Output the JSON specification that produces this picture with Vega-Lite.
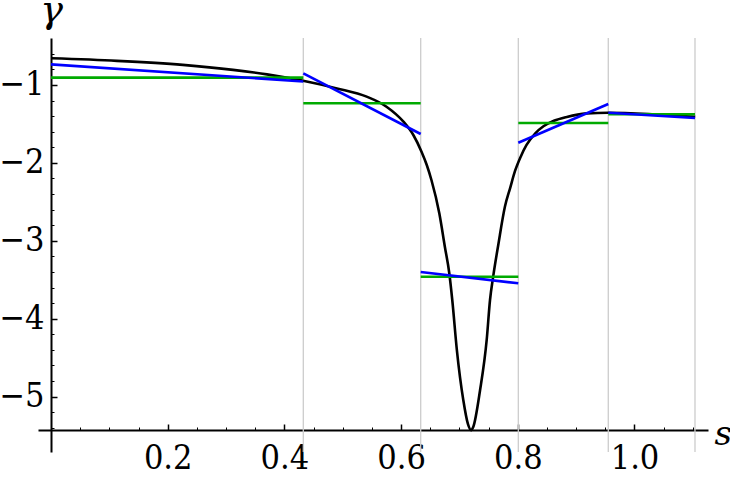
{
  "$schema": "https://vega.github.io/schema/vega-lite/v6.json",
  "width": 670,
  "height": 414,
  "autosize": {"type": "none"},
  "padding": {"left": 38, "top": 38, "right": 22, "bottom": 34},
  "config": {
    "font": "DejaVu Serif",
    "view": {"stroke": null},
    "axis": {
      "grid": false,
      "domainColor": "black",
      "tickColor": "black",
      "labelColor": "black",
      "titleColor": "black",
      "labelFont": "DejaVu Serif Condensed, DejaVu Serif",
      "titleFont": "DejaVu Serif",
      "labelFontSize": 34,
      "titleFontSize": 34,
      "titleFontWeight": "normal",
      "titleFontStyle": "italic",
      "labelOverlap": false,
      "labelFlush": false
    }
  },
  "datasets": {
    "curve": [
      {"s": 0, "g": -0.657},
      {"s": 0.113, "g": -0.69},
      {"s": 0.226, "g": -0.742},
      {"s": 0.312, "g": -0.806},
      {"s": 0.37, "g": -0.864},
      {"s": 0.398, "g": -0.899},
      {"s": 0.432, "g": -0.946},
      {"s": 0.49, "g": -1.044},
      {"s": 0.541, "g": -1.15},
      {"s": 0.575, "g": -1.279},
      {"s": 0.604, "g": -1.471},
      {"s": 0.621, "g": -1.642},
      {"s": 0.635, "g": -1.856},
      {"s": 0.644, "g": -2.027},
      {"s": 0.652, "g": -2.22},
      {"s": 0.6655, "g": -2.647},
      {"s": 0.675, "g": -3.076},
      {"s": 0.6826, "g": -3.417},
      {"s": 0.6877, "g": -3.76},
      {"s": 0.6956, "g": -4.402},
      {"s": 0.7066, "g": -5.044},
      {"s": 0.7145, "g": -5.35},
      {"s": 0.72, "g": -5.43},
      {"s": 0.7238, "g": -5.386},
      {"s": 0.7352, "g": -4.924},
      {"s": 0.7467, "g": -4.273},
      {"s": 0.7524, "g": -3.76},
      {"s": 0.758, "g": -3.45},
      {"s": 0.7666, "g": -3.05},
      {"s": 0.778, "g": -2.56},
      {"s": 0.787, "g": -2.32},
      {"s": 0.795, "g": -2.11},
      {"s": 0.805, "g": -1.92},
      {"s": 0.815, "g": -1.77},
      {"s": 0.83, "g": -1.62},
      {"s": 0.844, "g": -1.53},
      {"s": 0.862, "g": -1.46},
      {"s": 0.884, "g": -1.41},
      {"s": 0.918, "g": -1.365},
      {"s": 0.955, "g": -1.356},
      {"s": 1.03, "g": -1.375},
      {"s": 1.104, "g": -1.41}
    ],
    "knots": [
      {"s": 0.4324},
      {"s": 0.6336},
      {"s": 0.8009},
      {"s": 0.9551},
      {"s": 1.1037}
    ],
    "flat": [
      {"s1": 0, "s2": 0.4324, "g": -0.906},
      {"s1": 0.4324, "s2": 0.6336, "g": -1.235},
      {"s1": 0.6336, "s2": 0.8009, "g": -3.461},
      {"s1": 0.8009, "s2": 0.9551, "g": -1.488},
      {"s1": 0.9551, "s2": 1.1037, "g": -1.376}
    ],
    "linear": [
      {"s1": 0, "g1": -0.735, "s2": 0.4324, "g2": -0.955},
      {"s1": 0.4324, "g1": -0.85, "s2": 0.6336, "g2": -1.629},
      {"s1": 0.6336, "g1": -3.4, "s2": 0.8009, "g2": -3.546},
      {"s1": 0.8009, "g1": -1.741, "s2": 0.9551, "g2": -1.244},
      {"s1": 0.9551, "g1": -1.356, "s2": 1.1037, "g2": -1.424}
    ]
  },
  "resolve": {"axis": {"x": "independent", "y": "independent"}},
  "layer": [
    {
      "data": {"name": "knots"},
      "mark": {"type": "rule", "color": "#cccccc", "strokeWidth": 1.3},
      "encoding": {
        "x": {"field": "s", "type": "quantitative", "axis": null,
              "scale": {"domain": [-0.0223, 1.126], "nice": false, "zero": false}}
      }
    },
    {
      "data": {"name": "curve"},
      "mark": {"type": "line", "color": "black", "strokeWidth": 2.6, "interpolate": "monotone", "clip": true},
      "encoding": {
        "x": {
          "field": "s", "type": "quantitative",
          "scale": {"domain": [-0.0223, 1.126], "nice": false, "zero": false},
          "axis": {
            "orient": "bottom", "offset": -22,
            "values": [0.2, 0.4, 0.6, 0.8, 1.0], "format": ".1f",
            "tickSize": -6, "tickWidth": 1.5, "domainWidth": 2, "labelPadding": 17,
            "title": "s", "titleAngle": 0, "titleX": 676, "titleY": 14,
            "titleAlign": "left", "titleBaseline": "alphabetic"
          }
        },
        "y": {
          "field": "g", "type": "quantitative",
          "scale": {"domain": [-5.711, -0.397], "nice": false, "zero": false},
          "axis": {
            "orient": "left", "offset": -13,
            "values": [-1, -2, -3, -4, -5], "format": "d",
            "tickSize": -6, "tickWidth": 1.5, "domainWidth": 2, "labelPadding": 13,
            "title": "γ", "titleFontSize": 38, "titleAngle": 0, "titleX": 0, "titleY": -17,
            "titleAlign": "center", "titleBaseline": "alphabetic"
          }
        }
      }
    },
    {
      "data": {"name": "flat"},
      "mark": {"type": "rule", "color": "#00aa00", "strokeWidth": 2.6},
      "encoding": {
        "x": {"field": "s1", "type": "quantitative", "axis": null},
        "x2": {"field": "s2"},
        "y": {"field": "g", "type": "quantitative", "axis": null}
      }
    },
    {
      "data": {"name": "linear"},
      "mark": {"type": "rule", "color": "#0000ff", "strokeWidth": 2.6},
      "encoding": {
        "x": {
          "field": "s1", "type": "quantitative",
          "axis": {
            "orient": "bottom", "offset": -22, "labels": false, "domain": false,
            "values": [0.05, 0.1, 0.15, 0.25, 0.3, 0.35, 0.45, 0.5, 0.55, 0.65, 0.7, 0.75, 0.85, 0.9, 0.95, 1.05, 1.1],
            "tickSize": -3, "tickWidth": 1, "title": null
          }
        },
        "x2": {"field": "s2"},
        "y": {
          "field": "g1", "type": "quantitative",
          "axis": {
            "orient": "left", "offset": -13, "labels": false, "domain": false,
            "values": [-0.6, -0.8, -1.2, -1.4, -1.6, -1.8, -2.2, -2.4, -2.6, -2.8, -3.2, -3.4, -3.6, -3.8, -4.2, -4.4, -4.6, -4.8, -5.2, -5.4],
            "tickSize": -3, "tickWidth": 1, "title": null
          }
        },
        "y2": {"field": "g2"}
      }
    }
  ]
}
